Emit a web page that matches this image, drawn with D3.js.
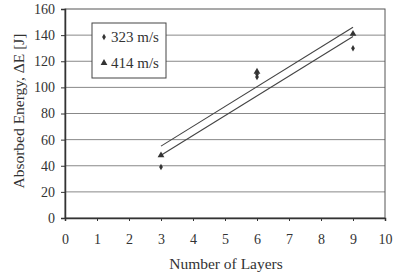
<!DOCTYPE html>
<html><head><meta charset="utf-8">
<script src="https://cdn.jsdelivr.net/npm/d3@7"></script>
<style>body{margin:0;background:#fff}svg{display:block}text{font-family:"Liberation Serif","DejaVu Serif",serif;fill:#333}</style>
</head><body>
<svg id="c" width="394" height="276"></svg>
<script>
const xTicks = [0,1,2,3,4,5,6,7,8,9,10];
const yTicks = [0,20,40,60,80,100,120,140,160];
const layers323 = [3,6,6,9];
const energy323 = [39,108,110,130];
const layers414 = [3,6,9];
const energy414 = [48,112,141];
const fitUpperX = [3,9], fitUpperY = [55,146];
const fitLowerX = [3,9], fitLowerY = [48,139];
const seriesNames = ["323 m/s","414 m/s"];

const svg = d3.select("#c");
const L=65, R=385, T=9, B=218;
const x = d3.scaleLinear().domain([0,10]).range([L,R]);
const y = d3.scaleLinear().domain([0,160]).range([B,T]);
const ink="#333";

// grid
svg.append("g").selectAll("line").data(yTicks.filter(d=>d>0&&d<160)).join("line")
  .attr("x1",L).attr("x2",R).attr("y1",d=>y(d)).attr("y2",d=>y(d))
  .attr("stroke","#888").attr("stroke-width",1);
// frame
svg.append("rect").attr("x",L).attr("y",T).attr("width",R-L).attr("height",B-T)
  .attr("fill","none").attr("stroke","#555").attr("stroke-width",1);

const yAx = svg.append("g").attr("transform",`translate(${L},0)`)
  .call(d3.axisLeft(y).tickValues(yTicks).tickSize(4).tickPadding(6));
const xAx = svg.append("g").attr("transform",`translate(0,${B})`)
  .call(d3.axisBottom(x).tickValues(xTicks).tickSize(3).tickPadding(13));
[yAx,xAx].forEach(a=>{
  a.select(".domain").attr("stroke",ink).attr("stroke-width",1.5);
  a.selectAll("line").attr("stroke",ink);
  a.selectAll("text").style("font-size","14px").attr("fill","#333").style("font-family","Liberation Serif");
});

// fit lines
const line = d3.line().x(d=>x(d[0])).y(d=>y(d[1]));
svg.append("path").attr("d",line(fitUpperX.map((v,i)=>[v,fitUpperY[i]])))
  .attr("stroke","#444").attr("fill","none").attr("stroke-width",1.1);
svg.append("path").attr("d",line(fitLowerX.map((v,i)=>[v,fitLowerY[i]])))
  .attr("stroke","#444").attr("fill","none").attr("stroke-width",1.1);

// markers
const dia = d3.symbol().type(d3.symbolDiamond).size(12);
const tri = d3.symbol().type(d3.symbolTriangle).size(20);
svg.append("g").selectAll("path").data(layers323.map((v,i)=>[v,energy323[i]])).join("path")
  .attr("d",dia).attr("transform",d=>`translate(${x(d[0])},${y(d[1])})`).attr("fill",ink);
svg.append("g").selectAll("path").data(layers414.map((v,i)=>[v,energy414[i]])).join("path")
  .attr("d",tri).attr("transform",d=>`translate(${x(d[0])},${y(d[1])})`).attr("fill",ink);

// legend
const lg = svg.append("g");
lg.append("rect").attr("x",92).attr("y",23).attr("width",74).attr("height",55)
  .attr("fill","#fff").attr("stroke","#444").attr("stroke-width",1);
lg.append("path").attr("d",dia).attr("transform","translate(104,37)").attr("fill",ink);
lg.append("path").attr("d",tri).attr("transform","translate(104,63)").attr("fill",ink);
lg.append("text").attr("x",111).attr("y",42).style("font-size","15px").text(seriesNames[0]);
lg.append("text").attr("x",111).attr("y",68).style("font-size","15px").text(seriesNames[1]);

// titles
svg.append("text").attr("x",226).attr("y",269).attr("text-anchor","middle")
  .style("font-size","15.5px").text("Number of Layers");
svg.append("text").attr("transform","translate(24,111) rotate(-90)").attr("text-anchor","middle")
  .style("font-size","15.5px").text("Absorbed Energy, ΔE [J]");
</script>
</body></html>
